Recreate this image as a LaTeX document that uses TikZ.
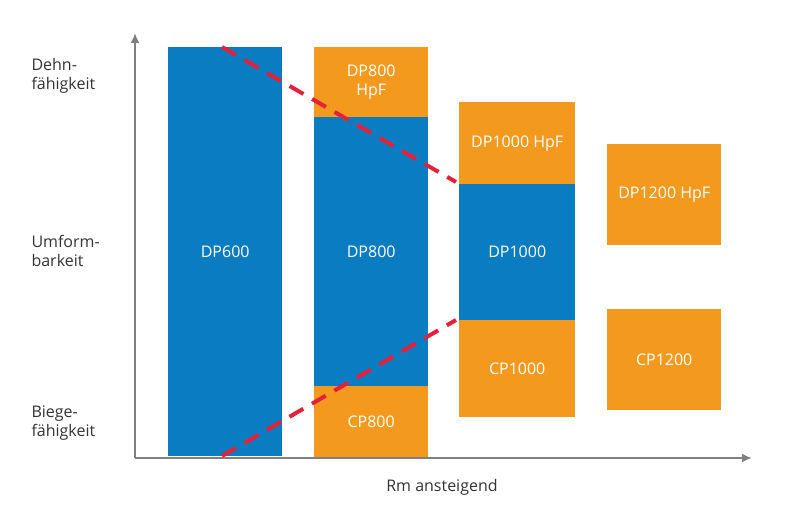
\documentclass[tikz,border=0pt]{standalone}
\usepackage{fontspec}
\setmainfont{Open Sans}
\definecolor{cblue}{HTML}{0A7CC1}
\definecolor{corange}{HTML}{F39A1E}
\definecolor{cred}{HTML}{E5213A}
\definecolor{caxis}{HTML}{808080}
\definecolor{ctext}{HTML}{333333}
\begin{document}
\begin{tikzpicture}[x=1pt,y=-1pt,
  box/.style={anchor=north west,inner sep=0pt,text=white,font=\fontsize{16}{19}\selectfont,align=center},
  bluebox/.style={box,fill=cblue},
  orangebox/.style={box,fill=corange},
  lbl/.style={text=ctext,font=\fontsize{16}{19}\selectfont,align=left},
  axis/.style={draw=caxis,line width=2.5pt,-{Latex[length=10pt,width=9pt]}},
  redline/.style={draw=cred,line width=4pt,dash pattern=on 16pt off 10pt}]
\useasboundingbox (0,0) rectangle (800,510);
\usetikzlibrary{arrows.meta}
\node[bluebox,minimum width=114,minimum height=409] (dp600) at (168,47) {DP600};
\node[orangebox,minimum width=114,minimum height=70] (dp800h) at (314,47) {DP800\\HpF};
\node[bluebox,minimum width=114,minimum height=269] (dp800) at (314,117) {DP800};
\node[orangebox,minimum width=114,minimum height=72] (cp800) at (314,386) {CP800};
\node[orangebox,minimum width=116,minimum height=82] (dp1000h) at (459,102) {DP1000 HpF};
\node[bluebox,minimum width=116,minimum height=136] (dp1000) at (459,184) {DP1000};
\node[orangebox,minimum width=116,minimum height=97] (cp1000) at (459,320) {CP1000};
\node[orangebox,minimum width=114,minimum height=101] (dp1200h) at (607,144) {DP1200 HpF};
\node[orangebox,minimum width=114,minimum height=101] (cp1200) at (607,309) {CP1200};
\coordinate (o) at (135,458);
\coordinate (ytop) at (135,33);
\coordinate (xend) at (752,458);
\draw[axis] (o) -- (ytop);
\draw[axis] (o) -- (xend);
\coordinate (t1) at (222,47);
\coordinate (t2) at (456,182);
\coordinate (b1) at (222,456);
\coordinate (b2) at (456,320);
\draw[redline] (t1) -- (t2);
\draw[redline] (b1) -- (b2);
\node[lbl,anchor=west] (l1) at (28,76) {Dehn-\\fähigkeit};
\node[lbl,anchor=west] (l2) at (28,251) {Umform-\\barkeit};
\node[lbl,anchor=west] (l3) at (28,423) {Biege-\\fähigkeit};
\node[lbl] (xl) at (442,487) {Rm ansteigend};
\end{tikzpicture}
\end{document}
